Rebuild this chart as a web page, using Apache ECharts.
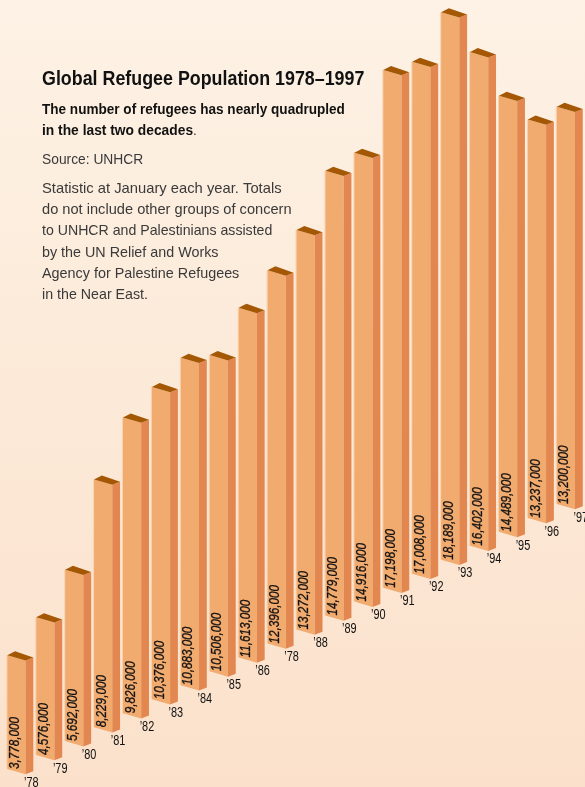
<!DOCTYPE html>
<html><head><meta charset="utf-8">
<style>html,body{margin:0;padding:0;background:#fce9d8}#c{width:585px;height:787px}</style>
<script src="https://cdn.jsdelivr.net/npm/echarts@6/dist/echarts.min.js"></script>
</head><body><div id="c"></div>
<script>
const yearLabels = ["’78","’79","’80","’81","’82","’83","’84","’85","’86","’78","’88","’89","’90","’91","’92","’93","’94","’95","’96","’97"];
const refugees = [3778000,4576000,5692000,8229000,9826000,10376000,10883000,10506000,11613000,12396000,13272000,14779000,14916000,17198000,17008000,18189000,16402000,14489000,13237000,13200000];
const valueLabels = ["3,778,000","4,576,000","5,692,000","8,229,000","9,826,000","10,376,000","10,883,000","10,506,000","11,613,000","12,396,000","13,272,000","14,779,000","14,916,000","17,198,000","17,008,000","18,189,000","16,402,000","14,489,000","13,237,000","13,200,000"];
const titleText = "Global Refugee Population 1978–1997";
const leadLines = ["The number of refugees has nearly quadrupled","in the last two decades"];
const sourceLine = "Source: UNHCR";
const noteLines = ["Statistic at January each year. Totals","do not include other groups of concern","to UNHCR and Palestinians assisted","by the UN Relief and Works","Agency for Palestine Refugees","in the Near East."];

const FONT = '"Liberation Sans",Arial,sans-serif';
const RISE = 13.95, FRONT = 18.2, DEPTH_X = 7.8, DEPTH_Y = 3, BACK_Y = 4, SLOPE = 5.3;

function renderBar(params, api) {
  const i = api.value(0), v = api.value(1);
  const shift = RISE * i;
  const c0 = api.coord([i, 0]), c1 = api.coord([i, v]);
  const xl = c0[0] - (FRONT + DEPTH_X) / 2, xr = xl + FRONT, xs = xr + DEPTH_X;
  const yb = c0[1] - shift, yt = c1[1] - shift;
  const poly = (pts, fill) => ({type:'polygon', shape:{points:pts}, style:{fill}});
  return {type:'group', children:[
    poly([[xl-1,yt-.3],[xl,yt],[xl,yb],[xl-1,yb-.3]], '#f9d3ae'),
    poly([[xl,yt],[xr,yt+SLOPE],[xr,yb+SLOPE],[xl,yb]], '#f2ab6f'),
    poly([[xr,yt+SLOPE],[xs,yt+SLOPE-DEPTH_Y],[xs,yb+SLOPE-DEPTH_Y],[xr,yb+SLOPE]], '#e2874f'),
    poly([[xl,yt],[xl+DEPTH_X,yt-BACK_Y],[xs,yt+SLOPE-DEPTH_Y],[xr,yt+SLOPE]], '#a45804'),
    {type:'text', x:xr-3.2, y:yb, rotation:Math.PI/2, scaleX:0.78,
      style:{text:valueLabels[i], font:'italic 15px '+FONT, fill:'#111', stroke:'#111', lineWidth:0.3, align:'left', verticalAlign:'bottom'}},
    {type:'text', x:xr-1.5, y:yb+SLOPE+8.5, scaleX:0.78,
      style:{text:yearLabels[i], font:'14px '+FONT, fill:'#111', align:'left', verticalAlign:'middle'}}
  ]};
}

const textEl = (text, y, bold, fill, scaleX, size, x) => ({type:'text', x:x||42, y, scaleX,
  style:{text, font:(bold?'bold ':'')+(size||15)+'px '+FONT, fill, verticalAlign:'bottom'}});

const leadFit = [0.904,0.92];
const noteFit = [0.984,0.975,0.943,0.955,0.958,0.949];

const chart = echarts.init(document.getElementById('c'), null, {renderer:'canvas'});
chart.setOption({
  animation:false,
  backgroundColor:{type:'linear',x:0,y:0,x2:0,y2:1,colorStops:[{offset:0,color:'#fdf2e5'},{offset:1,color:'#fbe1cb'}]},
  grid:{left:5.84,width:578.4,top:16.5,height:752.5},
  xAxis:{type:'category',data:yearLabels,show:false},
  yAxis:{type:'value',min:0,max:25000000,show:false},
  graphic:[
    textEl(titleText,90,true,'#111',0.85,21),
    ...leadLines.map((t,k)=>textEl(t,117+21*k,true,'#111',leadFit[k])),
    textEl('.',138,false,'#333',0.9,15,193),
    textEl(sourceLine,167,false,'#3a3a3a',0.92),
    ...noteLines.map((t,k)=>textEl(t,196+21.3*k,false,'#3a3a3a',noteFit[k]))
  ],
  series:[{type:'custom',clip:false,renderItem:renderBar,encode:{x:0,y:1},
    data:refugees.map((v,i)=>[i,v])}]
});
</script></body></html>
